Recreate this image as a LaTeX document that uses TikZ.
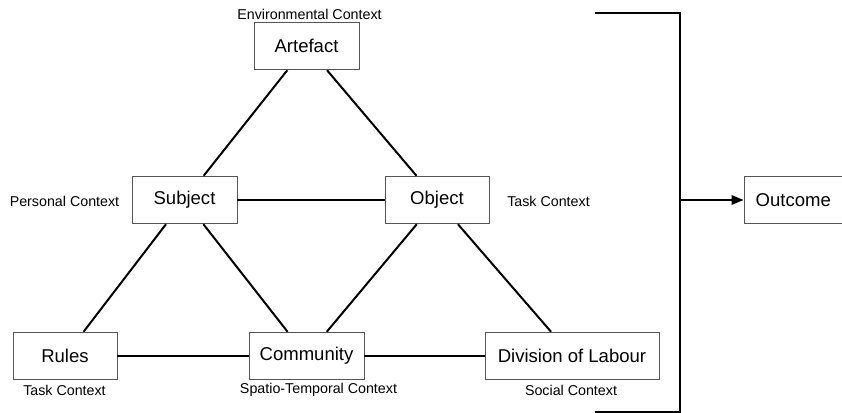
\documentclass[tikz,border=0pt]{standalone}
\usepackage{fontspec}
\setmainfont{Liberation Sans}
\usepackage{xcolor}
\usepackage{tikz}
\usetikzlibrary{arrows.meta}
\definecolor{Frame}{RGB}{85,85,85}
\newcommand{\BoxFont}{\fontsize{13.9}{16}\selectfont}
\newcommand{\CtxFont}{\fontsize{10.7}{12}\selectfont}

\begin{document}
\begin{tikzpicture}[x=0.75pt,y=-0.75pt,
  box/.style={draw=Frame,line width=0.7pt,minimum width=#1,minimum height=35.6pt,inner sep=0pt,font=\BoxFont},
  ctx/.style={inner sep=0pt,font=\CtxFont},
  link/.style={line width=1.5pt,black}]
\useasboundingbox (0,0) rectangle (842,413);
% activity triangle
\node[box=78.75pt] (artefact)  at (306.5,46)  {Artefact};
\node[box=78.75pt] (subject)   at (184.5,200) {Subject};
\node[box=78pt]    (object)    at (437,200)   {Object};
\node[box=78pt]    (rules)     at (65,356)    {Rules};
\node[box=86.25pt] (community) at (306.5,356) {Community};
\node[box=130.5pt] (division)  at (572,356)   {Division of Labour};
\node[box=78pt]    (outcome)   at (796,200)   {\hspace*{-4pt}Outcome};
% context labels
\node[ctx] (envctx)   at (309.5,14)  {Environmental Context};
\node[ctx] (perctx)   at (64.5,201)  {Personal Context};
\node[ctx] (taskctxA) at (548.5,201) {Task Context};
\node[ctx] (taskctxB) at (64.5,390)  {Task Context};
\node[ctx] (stctx)    at (318.5,390) {Spatio-Temporal Context};
\node[ctx] (socctx)   at (571,390)   {Social Context};
% edges
\draw[link] (artefact) -- (subject);
\draw[link] (artefact) -- (object);
\draw[link] (subject) -- (object);
\draw[link] (subject) -- (rules);
\draw[link] (subject) -- (community);
\draw[link] (object) -- (community);
\draw[link] (object) -- (division);
\draw[link] (rules) -- (community);
\draw[link] (community) -- (division);
% bracket into outcome
\coordinate (brTL) at (595,13);
\coordinate (brTR) at (680,13);
\coordinate (brBR) at (680,412);
\coordinate (brBL) at (595,412);
\coordinate (brMid) at (680,200);
\draw[link] (brTL) -- (brTR) -- (brBR) -- (brBL);
\draw[link,-{Triangle[length=9pt,width=7pt]}] (brMid) -- (outcome);
\end{tikzpicture}
\end{document}
